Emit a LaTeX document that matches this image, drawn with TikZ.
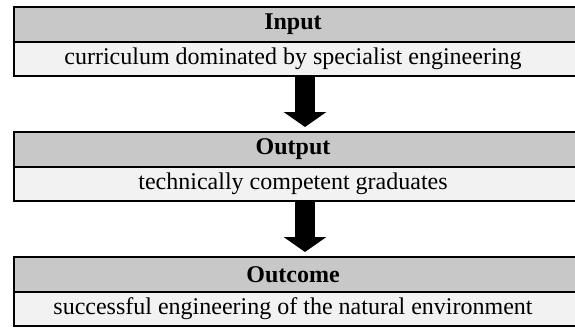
\documentclass[tikz,border=0pt]{standalone}
\usepackage{fontspec}
\setmainfont{Liberation Serif}
\usetikzlibrary{arrows.meta}
\definecolor{hdrgray}{HTML}{C8C8C8}
\definecolor{bodygray}{HTML}{F2F2F2}
\tikzset{
  x=1pt, y=-1pt,
  cellbox/.style={rectangle, inner sep=0pt, minimum width=600pt, minimum height=34.5pt, anchor=north west},
  hdrcell/.style={cellbox, fill=hdrgray},
  bodycell/.style={cellbox, fill=bodygray},
  celltext/.style={inner sep=0pt, font=\fontsize{24}{28}\selectfont},
  hdrtext/.style={celltext, font=\fontsize{24}{28}\selectfont\bfseries},
  bigarrow/.style={line width=20.5pt, -{Triangle[width=42pt, length=15pt]}, shorten >=5pt},
}
\begin{document}
\begin{tikzpicture}
\useasboundingbox (0,0) rectangle (575,327);
\begin{scope}
\clip (0,0) rectangle (575,327);
\coordinate (ax) at (305,0);
% box 1
\node[hdrcell] (h1) at (14,7) {};
\node[bodycell] (b1) at (14,41.5) {};
\draw[line width=2pt] (h1.north east) -- (h1.north west) -- (b1.south west) -- (b1.south east);
\draw[line width=1.5pt] (h1.south west) -- (h1.south east);
\node[hdrtext] (t1) at (293,24.25) {Input};
\node[celltext] (c1) at (293,58.75) {curriculum dominated by specialist engineering};
% box 2
\node[hdrcell] (h2) at (14,132) {};
\node[bodycell] (b2) at (14,166.5) {};
\draw[line width=2pt] (h2.north east) -- (h2.north west) -- (b2.south west) -- (b2.south east);
\draw[line width=1.5pt] (h2.south west) -- (h2.south east);
\node[hdrtext] (t2) at (293,149.25) {Output};
\node[celltext] (c2) at (293,183.75) {technically competent graduates};
% box 3
\node[hdrcell] (h3) at (14,257) {};
\node[bodycell] (b3) at (14,291.5) {};
\draw[line width=2pt] (h3.north east) -- (h3.north west) -- (b3.south west) -- (b3.south east);
\draw[line width=1.5pt] (h3.south west) -- (h3.south east);
\node[hdrtext] (t3) at (293,274.25) {Outcome};
\node[celltext] (c3) at (293,308.75) {successful engineering of the natural environment};
% arrows
\draw[bigarrow] (b1.south -| ax) -- (h2.north -| ax);
\draw[bigarrow] (b2.south -| ax) -- (h3.north -| ax);
\end{scope}
\end{tikzpicture}
\end{document}
